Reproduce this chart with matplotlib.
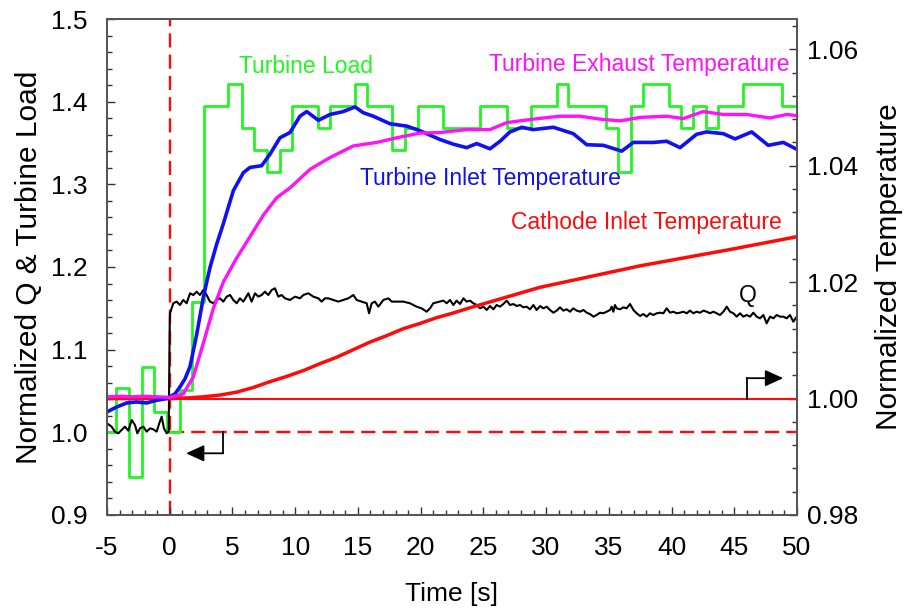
import matplotlib
matplotlib.use("Agg")
import matplotlib.pyplot as plt
from matplotlib.ticker import MultipleLocator, FormatStrFormatter

plt.rcParams['font.family'] = ['Liberation Sans', 'DejaVu Sans']
plt.rcParams['axes.unicode_minus'] = False

# turbine load: step edges [s] and level after each edge
load_edges = [-5.0, -4.28, -3.22, -2.23, -1.25, -0.19, 0.82, 1.75, 2.75, 4.67,
              5.73, 6.74, 7.73, 8.79, 9.77, 11.8, 12.78, 14.77, 15.7, 17.74,
              18.75, 19.81, 21.81, 24.73, 26.86, 28.77, 30.85, 31.77, 34.75, 35.76,
              36.77, 37.75, 39.8, 40.73, 41.74, 42.72, 43.73, 45.72, 48.83, 50.0]
load_levels = [1.0, 1.053, 0.946, 1.079, 1.025, 1.0, 1.051, 1.158, 1.395, 1.421,
               1.368, 1.342, 1.315, 1.342, 1.395, 1.368, 1.395, 1.421, 1.395, 1.342,
               1.368, 1.395, 1.368, 1.395, 1.368, 1.395, 1.421, 1.395, 1.368, 1.315,
               1.395, 1.421, 1.395, 1.368, 1.395, 1.368, 1.395, 1.421, 1.395, 1.395]

# normalized Q
q_time = [-5.0, -4.63, -4.37, -4.10, -3.83, -3.57, -3.30, -3.03, -2.77, -2.58,
          -2.37, -2.10, -1.84, -1.57, -1.31, -1.04, -0.83, -0.64, -0.46, -0.24,
          -0.08, 0.0, 0.02, 0.29, 0.55, 0.82, 1.08, 1.35, 1.62, 1.88,
          2.15, 2.41, 2.68, 2.94, 3.21, 3.48, 3.74, 4.01, 4.27, 4.54,
          4.81, 5.07, 5.34, 5.60, 5.87, 6.27, 6.53, 6.80, 7.06, 7.33,
          7.59, 7.86, 8.13, 8.39, 8.66, 8.92, 9.19, 9.59, 9.99, 10.39,
          10.65, 11.05, 11.45, 11.85, 12.11, 12.38, 12.64, 13.04, 13.44, 13.84,
          14.24, 14.64, 14.90, 15.30, 15.70, 15.89, 16.10, 16.36, 16.63, 17.03,
          17.43, 17.69, 18.09, 18.62, 19.15, 19.68, 20.08, 20.48, 20.75, 21.01,
          21.81, 22.08, 22.34, 22.61, 22.87, 23.14, 23.41, 23.67, 23.94, 24.20,
          24.47, 24.73, 25.0, 25.27, 25.53, 25.80, 26.06, 26.33, 26.59, 26.86,
          27.13, 27.39, 27.66, 27.92, 28.19, 28.45, 28.72, 28.99, 29.25, 29.52,
          29.78, 30.05, 30.31, 30.58, 30.85, 31.11, 31.38, 31.64, 31.91, 32.17,
          32.44, 32.71, 32.97, 33.24, 33.50, 33.77, 34.03, 34.30, 34.56, 34.83,
          35.10, 35.23, 35.36, 35.49, 35.63, 35.89, 36.16, 36.42, 36.69, 36.96,
          37.22, 37.49, 37.75, 38.02, 38.28, 38.55, 38.82, 39.08, 39.35, 39.61,
          39.88, 40.14, 40.41, 40.68, 40.94, 41.21, 41.47, 41.74, 42.0, 42.27,
          42.54, 42.80, 43.07, 43.33, 43.60, 43.86, 44.13, 44.40, 44.66, 44.93,
          45.19, 45.46, 45.72, 45.99, 46.26, 46.52, 46.79, 47.05, 47.32, 47.58,
          47.85, 48.12, 48.38, 48.65, 48.91, 49.18, 49.44, 49.71, 49.98]
q_value = [1.0109, 1.0068, 1.0008, 0.9988, 1.0028, 1.0068, 1.0020, 1.0149, 1.0089, 0.9988,
           1.0048, 1.0068, 1.0008, 1.0048, 1.0036, 1.0008, 1.0109, 1.0190, 1.0048, 0.9988,
           1.0008, 1.1300, 1.1440, 1.1561, 1.1581, 1.1540, 1.1601, 1.1561, 1.1682, 1.1661,
           1.1701, 1.1661, 1.1722, 1.1661, 1.1581, 1.1561, 1.1601, 1.1621, 1.1581, 1.1641,
           1.1661, 1.1601, 1.1561, 1.1621, 1.1581, 1.1682, 1.1581, 1.1682, 1.1641, 1.1661,
           1.1701, 1.1661, 1.1722, 1.1742, 1.1641, 1.1661, 1.1621, 1.1601, 1.1641, 1.1621,
           1.1661, 1.1682, 1.1641, 1.1621, 1.1581, 1.1621, 1.1621, 1.1601, 1.1581, 1.1601,
           1.1621, 1.1661, 1.1601, 1.1581, 1.1561, 1.1440, 1.1561, 1.1581, 1.1520, 1.1601,
           1.1621, 1.1581, 1.1581, 1.1581, 1.1561, 1.1520, 1.1500, 1.1459, 1.1500, 1.1561,
           1.1593, 1.1561, 1.1601, 1.1540, 1.1593, 1.1552, 1.1621, 1.1581, 1.1593, 1.1561,
           1.1540, 1.1500, 1.1520, 1.1480, 1.1528, 1.1488, 1.1540, 1.1520, 1.1552, 1.1593,
           1.1540, 1.1552, 1.1528, 1.1540, 1.1512, 1.1520, 1.1488, 1.1540, 1.1480, 1.1528,
           1.1500, 1.1520, 1.1480, 1.1447, 1.1472, 1.1512, 1.1472, 1.1488, 1.1459, 1.1500,
           1.1472, 1.1459, 1.1480, 1.1447, 1.1431, 1.1399, 1.1419, 1.1447, 1.1440, 1.1459,
           1.1480, 1.1520, 1.1459, 1.1540, 1.1500, 1.1488, 1.1512, 1.1500, 1.1552, 1.1480,
           1.1440, 1.1407, 1.1431, 1.1399, 1.1440, 1.1419, 1.1440, 1.1447, 1.1440, 1.1500,
           1.1447, 1.1459, 1.1440, 1.1447, 1.1459, 1.1440, 1.1472, 1.1440, 1.1459, 1.1447,
           1.1472, 1.1459, 1.1440, 1.1459, 1.1440, 1.1419, 1.1459, 1.1520, 1.1459, 1.1440,
           1.1399, 1.1440, 1.1399, 1.1419, 1.1399, 1.1447, 1.1399, 1.1379, 1.1419, 1.1318,
           1.1399, 1.1379, 1.1419, 1.1399, 1.1399, 1.1379, 1.1419, 1.1338, 1.1399]

# normalized temperatures (right axis)
tin_time = [-5.0, -4.23, -3.43, -2.64, -1.84, -1.04, -0.24, 0.42, 0.82, 1.22,
            1.62, 2.15, 2.68, 3.21, 3.74, 4.27, 5.07, 5.87, 6.4, 7.33,
            8.0, 8.79, 9.59, 10.38, 10.92, 11.85, 12.78, 13.84, 14.77, 15.43,
            16.23, 17.56, 18.89, 19.95, 21.54, 22.6, 23.67, 24.47, 25.53, 26.33,
            27.12, 28.06, 28.98, 30.58, 32.17, 33.24, 34.56, 36.03, 36.95, 38.55,
            39.61, 40.68, 42.0, 42.8, 44.13, 45.06, 46.39, 47.71, 48.91, 50.0]
tin_value = [0.9977, 0.99855, 0.99924, 0.99941, 0.99924, 0.9997, 1.0000, 1.0008, 1.0020, 1.0034,
             1.0055, 1.0110, 1.0174, 1.0225, 1.0265, 1.0300, 1.0357, 1.0388, 1.0397, 1.0400,
             1.0420, 1.0448, 1.0457, 1.0485, 1.0493, 1.0478, 1.0488, 1.0493, 1.0501, 1.0491,
             1.0485, 1.0472, 1.0468, 1.0460, 1.0445, 1.0437, 1.0431, 1.0438, 1.0429, 1.0442,
             1.0458, 1.0466, 1.0462, 1.0466, 1.0455, 1.0436, 1.0435, 1.0425, 1.0440, 1.0440,
             1.0442, 1.0431, 1.0454, 1.0458, 1.0455, 1.0446, 1.0458, 1.0435, 1.0440, 1.0428]

tex_time = [-5.0, -4.0, -3.0, -2.0, -1.0, 0.0, 1.08, 1.88, 2.68, 3.48,
            4.27, 5.3, 6.4, 7.46, 8.53, 9.59, 11.2, 12.78, 14.64, 16.5,
            18.1, 19.95, 21.54, 23.67, 25.53, 26.86, 28.98, 31.1, 32.7, 34.3,
            35.9, 37.5, 39.6, 40.94, 42.53, 44.13, 45.98, 47.85, 49.18, 50.0]
tex_value = [1.0003, 1.0004, 1.0003, 1.0004, 1.0003, 1.0002, 1.0008, 1.0037, 1.0095, 1.0155,
             1.0200, 1.0240, 1.0278, 1.0315, 1.0345, 1.0362, 1.0394, 1.0414, 1.0434, 1.0440,
             1.0448, 1.0456, 1.0457, 1.0462, 1.0462, 1.0474, 1.0480, 1.0485, 1.0485, 1.0480,
             1.0477, 1.0483, 1.0485, 1.0481, 1.0493, 1.0488, 1.0488, 1.0482, 1.0488, 1.0486]

tca_time = [-5.0, 0.0, 1.35, 2.68, 4.01, 5.34, 6.67, 7.99, 9.32, 10.65,
            11.98, 13.31, 14.64, 15.96, 17.29, 18.62, 19.95, 21.28, 22.61, 23.94,
            29.5, 37.5, 44.66, 50.0]
tca_value = [1.0000, 1.0000, 1.0001, 1.0003, 1.0006, 1.0011, 1.0019, 1.0029, 1.0038, 1.0048,
             1.0060, 1.0071, 1.0084, 1.0097, 1.0108, 1.0120, 1.0129, 1.0139, 1.0147, 1.0156,
             1.0191, 1.0228, 1.0256, 1.0278]

fig = plt.figure(figsize=(9.12, 6.09), dpi=100)
ax = fig.add_axes([0.1173, 0.1544, 0.7566, 0.8144])
ax2 = ax.twinx()

dash = (0, (6, 3))
red = '#ff0a0a'
green = '#22f522'
blue = '#1010f0'
magenta = '#ff10ff'

# reference lines for the step time and initial levels
ax.axvline(0, color=red, lw=1.7, ls=dash, zorder=1)
ax.plot([0, 50], [1.0, 1.0], color=red, lw=1.7, ls=dash, zorder=1)

ax.step(load_edges, load_levels, where='post', color=green, lw=2.0, zorder=2)
ax.plot(q_time, q_value, color='black', lw=1.5, zorder=3)

ax2.plot([0, 50], [1.0, 1.0], color=red, lw=1.5)
ax2.plot(tca_time, tca_value, color=red, lw=2.5)
ax2.plot(tin_time, tin_value, color=blue, lw=2.6)
ax2.plot(tex_time, tex_value, color=magenta, lw=2.4)

# axis pointer arrows
arrow = dict(arrowstyle='-|>,head_length=0.55,head_width=0.25', color='black',
             lw=1.3, mutation_scale=20, shrinkA=0, shrinkB=0)
ax.plot([4.27, 4.27], [1.0, 0.9746], color='black', lw=1.3)
ax.annotate('', xy=(1.3, 0.9746), xytext=(4.27, 0.9746), arrowprops=arrow)
ax2.plot([46.0, 46.0], [1.0, 1.0035], color='black', lw=1.3)
ax2.annotate('', xy=(48.9, 1.0035), xytext=(46.0, 1.0035), arrowprops=arrow)

ax.text(10.9, 1.443, 'Turbine Load', color=green, fontsize=16.5, ha='center', va='center')
ax.text(37.4, 1.4455, 'Turbine Exhaust Temperature', color=magenta, fontsize=16.5,
        ha='center', va='center')
ax.text(25.6, 1.3076, 'Turbine Inlet Temperature', color=blue, fontsize=16.5,
        ha='center', va='center')
ax.text(38.0, 1.2544, 'Cathode Inlet Temperature', color=red, fontsize=16.5,
        ha='center', va='center')
ax.text(46.1, 1.165, 'Q', color='black', fontsize=16.5, ha='center', va='center')

ax.set_xlim(-5, 50)
ax.set_ylim(0.9, 1.5)
ax2.set_ylim(0.98, 1.0652)

ax.xaxis.set_major_locator(MultipleLocator(5))
ax.xaxis.set_minor_locator(MultipleLocator(1))
ax.yaxis.set_major_locator(MultipleLocator(0.1))
ax.yaxis.set_minor_locator(MultipleLocator(0.02))
ax.yaxis.set_major_formatter(FormatStrFormatter('%.1f'))
ax2.yaxis.set_major_locator(MultipleLocator(0.02))
ax2.yaxis.set_minor_locator(MultipleLocator(0.004))
ax2.yaxis.set_major_formatter(FormatStrFormatter('%.2f'))

for a in (ax, ax2):
    a.tick_params(which='both', direction='in', width=1.0, color='#333333', labelsize=19)
    a.tick_params(which='major', length=6)
    a.tick_params(which='minor', length=3.5)
    for s in a.spines.values():
        s.set_color('#555555')
        s.set_linewidth(1.3)
ax.tick_params(axis='y', pad=14)
ax.tick_params(axis='x', pad=15)
ax2.tick_params(axis='y', pad=7)

ax.set_xlabel('Time [s]', fontsize=19, labelpad=16)
ax.set_ylabel('Normalized Q & Turbine Load', fontsize=21.5, labelpad=6)
ax2.set_ylabel('Normalized Temperature', fontsize=21.5, labelpad=12)

fig.savefig('out.png', dpi=100)
